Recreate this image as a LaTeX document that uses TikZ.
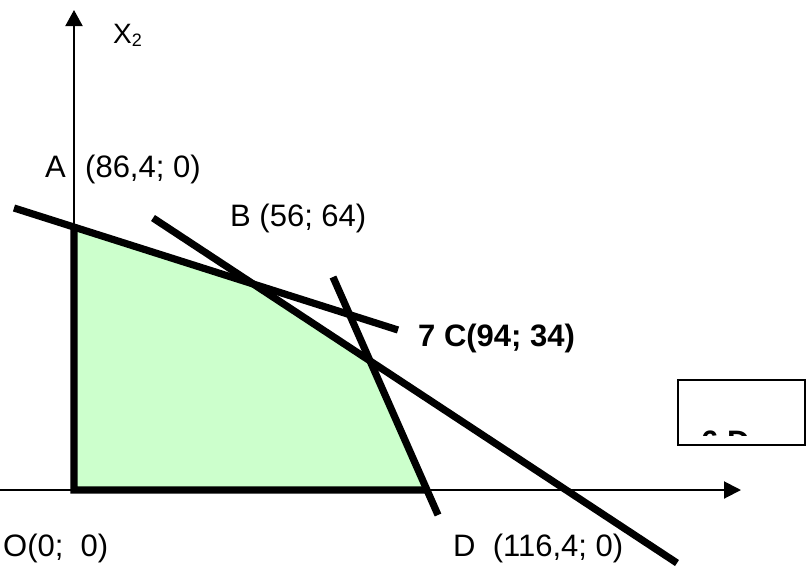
\documentclass[tikz,border=0pt]{standalone}
\usepackage{fontspec}
\setmainfont{Liberation Sans}
\usetikzlibrary{arrows.meta,calc}
\definecolor{feas}{HTML}{CCFFCC}
\tikzset{
  thickln/.style={line width=7.2pt},
  thinln/.style={line width=2pt},
  lbl/.style={inner sep=0pt,font=\fontsize{31}{37}\selectfont},
  blbl/.style={inner sep=0pt,font=\fontsize{31}{37}\selectfont\bfseries},
}
\begin{document}
\begin{tikzpicture}[x=1pt,y=-1pt]
\useasboundingbox (0,0) rectangle (806,566);
% named points
\coordinate (O) at (74,490);
\coordinate (ytip) at (74,10);
\coordinate (xs) at (0,490);
\coordinate (xtip) at (741,490);
\coordinate (l1s) at (14,208);
\coordinate (l1e) at (398,330);
\coordinate (l2s) at (153,218);
\coordinate (l2e) at (677,563);
\coordinate (l3s) at (333,277);
\coordinate (l3e) at (438,515);
\coordinate (A) at (intersection of l1s--l1e and O--ytip);
\coordinate (B) at (intersection of l1s--l1e and l2s--l2e);
\coordinate (C) at (intersection of l2s--l2e and l3s--l3e);
\coordinate (D) at (intersection of l3s--l3e and xs--xtip);
% feasible region
\fill[feas] (O) -- (A) -- (B) -- (C) -- (D) -- cycle;
\draw[line width=0.8pt] (A) -- (B) -- (C) -- (D);
% axes
\draw[thinln,-{Triangle[length=16pt,width=17pt]}] (O) -- (ytip);
\draw[thinln,-{Triangle[length=17pt,width=17pt]}] (xs) -- (xtip);
\draw[thickln] (A) -- (O) -- (D);
% constraint lines
\draw[thickln] (l1s) -- (l1e);
\draw[thickln] (l2s) -- (l2e);
\draw[thickln] (l3s) -- (l3e);
% labels
\node[inner sep=0pt,anchor=base west,font=\fontsize{28}{33}\selectfont] (x2) at (113,43) {X\raisebox{-3pt}{\fontsize{18}{20}\selectfont 2}};
\node[lbl,anchor=base west] (la) at (45,177) {A};
\node[lbl,anchor=base west] (lac) at (85,177) {(86,4; 0)};
\node[lbl,anchor=base west] (lb) at (230,226) {B (56; 64)};
\node[blbl,anchor=base west] (lc) at (418,346) {7 C(94; 34)};
\node[lbl,anchor=base west] (lo) at (3,556) {O(0;~~0)};
\node[lbl,anchor=base west] (ld) at (453,556) {D~~(116,4;~0)};
% clipped text frame
\draw[thinln] (678,380) rectangle (805,445);
\begin{scope}
\clip (680,382) rectangle (803,435.5);
\node[blbl,anchor=base west] (le) at (701,452) {6 D};
\end{scope}
\end{tikzpicture}
\end{document}
